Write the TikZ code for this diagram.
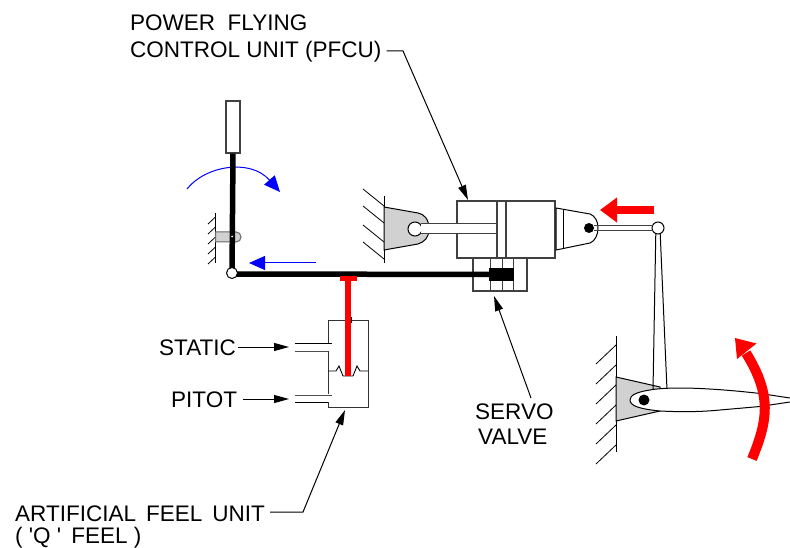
\documentclass[tikz,border=0pt]{standalone}
\usepackage{fontspec}
\setmainfont{Liberation Sans}
\usetikzlibrary{arrows.meta}
\definecolor{bracketgray}{gray}{0.82}
\tikzset{
lbl/.style={inner sep=0pt,anchor=base west,font=\fontsize{22.5}{27}\selectfont},
part/.style={draw=black!75,fill=white,inner sep=0pt,line width=1.1pt},
leader/.style={line width=1pt,-{Triangle[length=15pt,width=8pt]}},
blue arrow/.style={blue,line width=1pt,-{Triangle[length=16pt,width=14pt]}},
red arrow/.style={red,line width=8pt,-{Triangle[length=17pt,width=24pt]}},
hatch/.style={line width=0.8pt}
}
\begin{document}
\begin{tikzpicture}[x=1pt,y=-1pt]
\useasboundingbox (0,0) rectangle (790,548);

\node[lbl] (pfcua) at (130,31) {POWER\ \ FLYING};
\node[lbl] (pfcub) at (130,58) {CONTROL\ UNIT (PFCU)};
\node[lbl] (static) at (159,355) {STATIC};
\node[lbl] (pitot) at (171,407) {PITOT};
\node[lbl] (servoa) at (475,419) {SERVO};
\node[lbl] (servob) at (478,444) {VALVE};
\node[lbl] (feela) at (15,521) {ARTIFICIAL\,\ FEEL\,\ UNIT};
\node[lbl] (feelb) at (15,543) {( \textquotesingle Q \textquotesingle\ \,FEEL )};

\node[part,minimum width=14pt,minimum height=52pt] (lever) at (233,127) {};

\foreach \y in {217,227,237,247,257}
\draw[hatch] (215.5,\y) -- (208,\y+7);
\draw[hatch] (215.5,213) -- (215.5,263);
\draw[draw=black!60,line width=1pt,fill=bracketgray] (215.5,232) -- (236,232) .. controls (239,232) and (241,234) .. (241,237) .. controls (241,240) and (239,242) .. (236,242) -- (215.5,242) -- cycle;

\draw[blue arrow] (187,189) .. controls (205,166) and (250,158) .. (280,192);
\coordinate (blueend) at (249,263);
\coordinate (bluestart) at (316,263);
\draw[blue arrow] (bluestart) -- (blueend);

\foreach \y in {206,223,242,259}
\draw[hatch] (384,\y) -- ++(-21,-17);
\draw[hatch] (384,196) -- (384,263);
\draw[line width=1pt,fill=bracketgray] (384,207) -- (418,213) .. controls (424,214) and (429,219) .. (429,229) .. controls (429,238) and (424,242) .. (418,244) -- (384,250) -- cycle;
\node[circle,draw,fill=white,line width=1pt,inner sep=0pt,minimum size=14pt] (pina) at (415,229) {};

\node[part,minimum width=98pt,minimum height=57pt] (cylinder) at (506,229.5) {};
\draw[draw=black!75,line width=1pt,fill=white] (421,224) -- (497,224) -- (497,234) -- (421,234);
\node[part,minimum width=9pt,minimum height=56pt] (piston) at (501.5,229.5) {};

\node[part,minimum width=54pt,minimum height=33pt] (valve) at (500,274.5) {};
\draw[black!75,line width=1pt] (490,258) -- (490,291);
\draw[black!75,line width=1pt] (502,258) -- (502,291);
\draw[black!75,line width=1pt] (513,258) -- (513,291);
\node[fill=black,inner sep=0pt,minimum width=25pt,minimum height=13pt] (spool) at (501.5,274.5) {};
\draw[line width=5.5pt] (lever.south) -- (232,274) -- (spool.center);
\fill[white] (232,236.5) circle (1pt);
\node[circle,draw,fill=white,line width=1pt,inner sep=0pt,minimum size=11pt] (pivot) at (232,273) {};

\draw[line width=1pt,fill=white] (556,208) -- (590,214) .. controls (595,216) and (598,221) .. (598,228) .. controls (598,235) and (595,241) .. (590,243) -- (556,250) -- cycle;
\draw[line width=1pt] (563,209) -- (563,249);
\node[circle,fill=black,inner sep=0pt,minimum size=10pt] (pinb) at (589,228) {};

\node[circle,draw,fill=white,line width=1pt,inner sep=0pt,minimum size=12pt] (joint) at (658,228) {};
\draw[black!75,line width=1pt] (594,226) -- (joint.north west|-594,226);
\draw[black!75,line width=1pt] (594,231) -- (joint.south west|-594,231);
\coordinate (redbstart) at (654,210);
\coordinate (redbend) at (600,210);
\draw[red arrow] (redbstart) -- (redbend);

\foreach \y in {345,365,385,405,425,445}
\draw[hatch] (616,\y) -- ++(-20,19);
\draw[hatch] (616,336) -- (616,452);
\draw[line width=1pt,fill=bracketgray] (616,377) -- (660,387) -- (660,411) -- (616,421) -- cycle;
\draw[line width=1pt] (joint.250) -- (653,390);
\draw[line width=1pt] (joint.290) -- (667,390);
\draw[line width=1pt,fill=white] (790,398) -- (760,393.5) .. controls (730,390) and (700,388) .. (680,388) .. controls (665,388) and (655,389) .. (650,390) .. controls (637,392) and (630,395) .. (630,400) .. controls (630,406) and (640,409) .. (660,411) .. controls (680,412) and (700,412) .. (720,410) -- (760,406.5) -- (790,402);
\node[circle,fill=black,inner sep=0pt,minimum size=11pt] (pinc) at (644,400) {};
\coordinate (redcstart) at (752,459);
\coordinate (redcend) at (735,338);
\draw[red,line width=10pt] (redcstart) .. controls (768,420) and (772,395) .. (746,353);
\fill[red] (redcend) -- (756.5,343.5) -- (737,359) -- cycle;

\draw[black!80,line width=1pt] (328,320) -- (328,343);
\draw[black!80,line width=1pt] (328,351) -- (328,394);
\draw[black!80,line width=1pt] (328,402) -- (328,407) -- (368,407) -- (368,320) -- (328,320);
\draw[line width=1pt] (295,343) -- (332,343);
\draw[black!70,line width=1pt] (295,351) -- (328,351);
\draw[black!70,line width=1pt] (295,395) -- (332,395);
\draw[line width=1pt] (295,402) -- (328,402);
\draw[line width=0.9pt] (328,371) -- (336,371) -- (339,366) -- (343,376) -- (353,376) -- (357,366) -- (360,371) -- (368,371);
\draw[line width=0.9pt] (345,317) -- (345,323);
\draw[line width=0.9pt] (351,317) -- (351,323);
\draw[red,line width=5.5pt] (348,277) -- (348,376);
\draw[red,line width=5pt] (339.5,278.5) -- (357,278.5);

\coordinate (pfcuknee) at (403,51);
\coordinate (pfcutip) at (468,200);
\draw[leader] (pfcub.east|-pfcuknee) ++(5,0) -- (pfcuknee) -- (pfcutip);
\coordinate (servotip) at (494,296);
\coordinate (servotail) at (531,398);
\draw[leader] (servotail) -- (servotip);
\coordinate (statictip) at (289,347);
\draw[leader] (static.east|-statictip) ++(2,0) -- (statictip);
\coordinate (pitottip) at (289,399);
\draw[leader] (pitot.east|-pitottip) ++(6,0) -- (pitottip);
\coordinate (feelknee) at (303,512);
\coordinate (feeltip) at (345,410);
\draw[leader] (feela.east|-feelknee) ++(5,0) -- (feelknee) -- (feeltip);

\end{tikzpicture}
\end{document}
